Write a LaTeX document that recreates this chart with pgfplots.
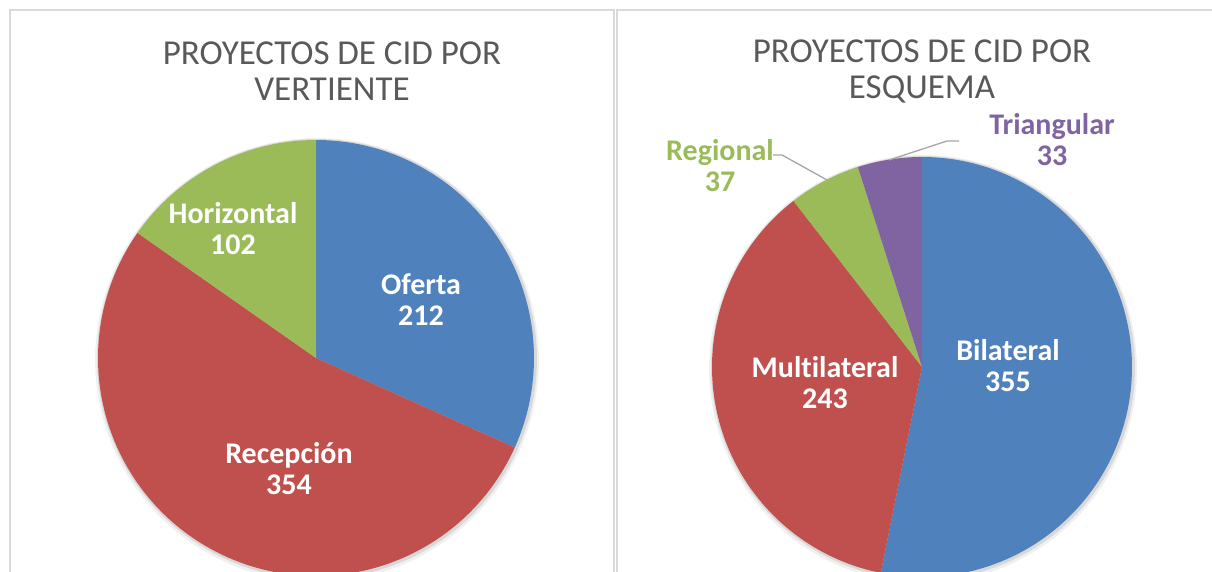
\documentclass[border=0pt]{standalone}
\usepackage{pgfplots}
\pgfplotsset{compat=1.18}
\usepackage{pgfplotstable}
\usepackage{fontspec}
\setmainfont{Carlito}[Ligatures=NoCommon]
\definecolor{cblue}{HTML}{4F81BD}
\definecolor{cred}{HTML}{C0504D}
\definecolor{cgreen}{HTML}{9BBB59}
\definecolor{cpurple}{HTML}{8064A2}
\definecolor{ctitle}{HTML}{595959}
\definecolor{cframe}{HTML}{D9D9D9}
\definecolor{cleader}{HTML}{A6A6A6}

\pgfplotstableread{
cat val
Oferta 212
Recepcion 354
Horizontal 102
}\tabA
\pgfplotstableread{
cat val
Bilateral 355
Multilateral 243
Regional 37
Triangular 33
}\tabB
\newcommand\getval[3]{\pgfplotstablegetelem{#2}{val}\of#1\global\let#3\pgfplotsretval}

\begin{document}
\begin{tikzpicture}
\getval{\tabA}{0}\vAa \getval{\tabA}{1}\vAb \getval{\tabA}{2}\vAc
\getval{\tabB}{0}\vBa \getval{\tabB}{1}\vBb \getval{\tabB}{2}\vBc \getval{\tabB}{3}\vBd
\pgfmathsetmacro\totA{\vAa+\vAb+\vAc}
\pgfmathsetmacro\aAa{\vAa/\totA*360}
\pgfmathsetmacro\aAb{\aAa+\vAb/\totA*360}
\pgfmathsetmacro\totB{\vBa+\vBb+\vBc+\vBd}
\pgfmathsetmacro\aBa{\vBa/\totB*360}
\pgfmathsetmacro\aBb{\aBa+\vBb/\totB*360}
\pgfmathsetmacro\aBc{\aBb+\vBc/\totB*360}
\begin{axis}[at={(0,0)}, anchor=south west, width=1212pt, height=571pt, scale only axis,
  xmin=0, xmax=1212, ymin=0, ymax=571, hide axis, clip=true]
% frames
\draw[cframe, line width=1.6pt] (axis cs:10,-5) -- (axis cs:10,561) -- (axis cs:614,561) -- (axis cs:614,-5);
\draw[cframe, line width=1.6pt] (axis cs:1220,561) -- (axis cs:617,561) -- (axis cs:617,-5);
% shadows
\addplot[draw=none, fill=black, opacity=0.06, domain=0:360, samples=120, variable=\t] ({317+222*sin(\t)}, {211+222*cos(\t)}) -- cycle;
\addplot[draw=none, fill=black, opacity=0.10, domain=0:360, samples=120, variable=\t] ({317+220*sin(\t)}, {212+220*cos(\t)}) -- cycle;
\addplot[draw=none, fill=black, opacity=0.06, domain=0:360, samples=120, variable=\t] ({923+214*sin(\t)}, {202+214*cos(\t)}) -- cycle;
\addplot[draw=none, fill=black, opacity=0.10, domain=0:360, samples=120, variable=\t] ({923+212*sin(\t)}, {203+212*cos(\t)}) -- cycle;
% left pie
\addplot[draw=none, fill=cblue, domain=0:\aAa, samples=100, variable=\t] ({316+218*sin(\t)}, {213+218*cos(\t)}) -- (axis cs:316,213) -- cycle;
\addplot[draw=none, fill=cred, domain=\aAa:\aAb, samples=140, variable=\t] ({316+218*sin(\t)}, {213+218*cos(\t)}) -- (axis cs:316,213) -- cycle;
\addplot[draw=none, fill=cgreen, domain=\aAb:360, samples=60, variable=\t] ({316+218*sin(\t)}, {213+218*cos(\t)}) -- (axis cs:316,213) -- cycle;
% right pie
\addplot[draw=none, fill=cblue, domain=0:\aBa, samples=140, variable=\t] ({922+210*sin(\t)}, {204+210*cos(\t)}) -- (axis cs:922,204) -- cycle;
\addplot[draw=none, fill=cred, domain=\aBa:\aBb, samples=100, variable=\t] ({922+210*sin(\t)}, {204+210*cos(\t)}) -- (axis cs:922,204) -- cycle;
\addplot[draw=none, fill=cgreen, domain=\aBb:\aBc, samples=30, variable=\t] ({922+210*sin(\t)}, {204+210*cos(\t)}) -- (axis cs:922,204) -- cycle;
\addplot[draw=none, fill=cpurple, domain=\aBc:360, samples=30, variable=\t] ({922+210*sin(\t)}, {204+210*cos(\t)}) -- (axis cs:922,204) -- cycle;
% leader lines
\addplot[cleader, line width=1.3pt] coordinates {(827,391) (782,416) (773,416)};
\addplot[cleader, line width=1.3pt] coordinates {(889,411) (947,430) (959,430)};
% titles
\node[ctitle, align=center, font=\fontsize{35}{36}\selectfont] at (axis cs:332,500) {PROYECTOS DE CID POR\\VERTIENTE};
\node[ctitle, align=center, font=\fontsize{35}{36}\selectfont] at (axis cs:922,500) {PROYECTOS DE CID POR\\ESQUEMA};
% labels
\tikzset{lab/.style={align=center, font=\fontsize{30}{31}\selectfont\bfseries}}
\node[lab, white] at (axis cs:421,271) {Oferta\\212};
\node[lab, white] at (axis cs:233,342) {Horizontal\\102};
\node[lab, white] at (axis cs:289,102) {Recepción\\354};
\node[lab, white] at (axis cs:1008,205) {Bilateral\\355};
\node[lab, white] at (axis cs:825,188) {Multilateral\\243};
\node[lab, cgreen] at (axis cs:720,405) {Regional\\37};
\node[lab, cpurple] at (axis cs:1052,431) {Triangular\\33};
\end{axis}
\pgfresetboundingbox
\path[use as bounding box] (0,0) rectangle (1212pt,571pt);
\end{tikzpicture}
\end{document}
